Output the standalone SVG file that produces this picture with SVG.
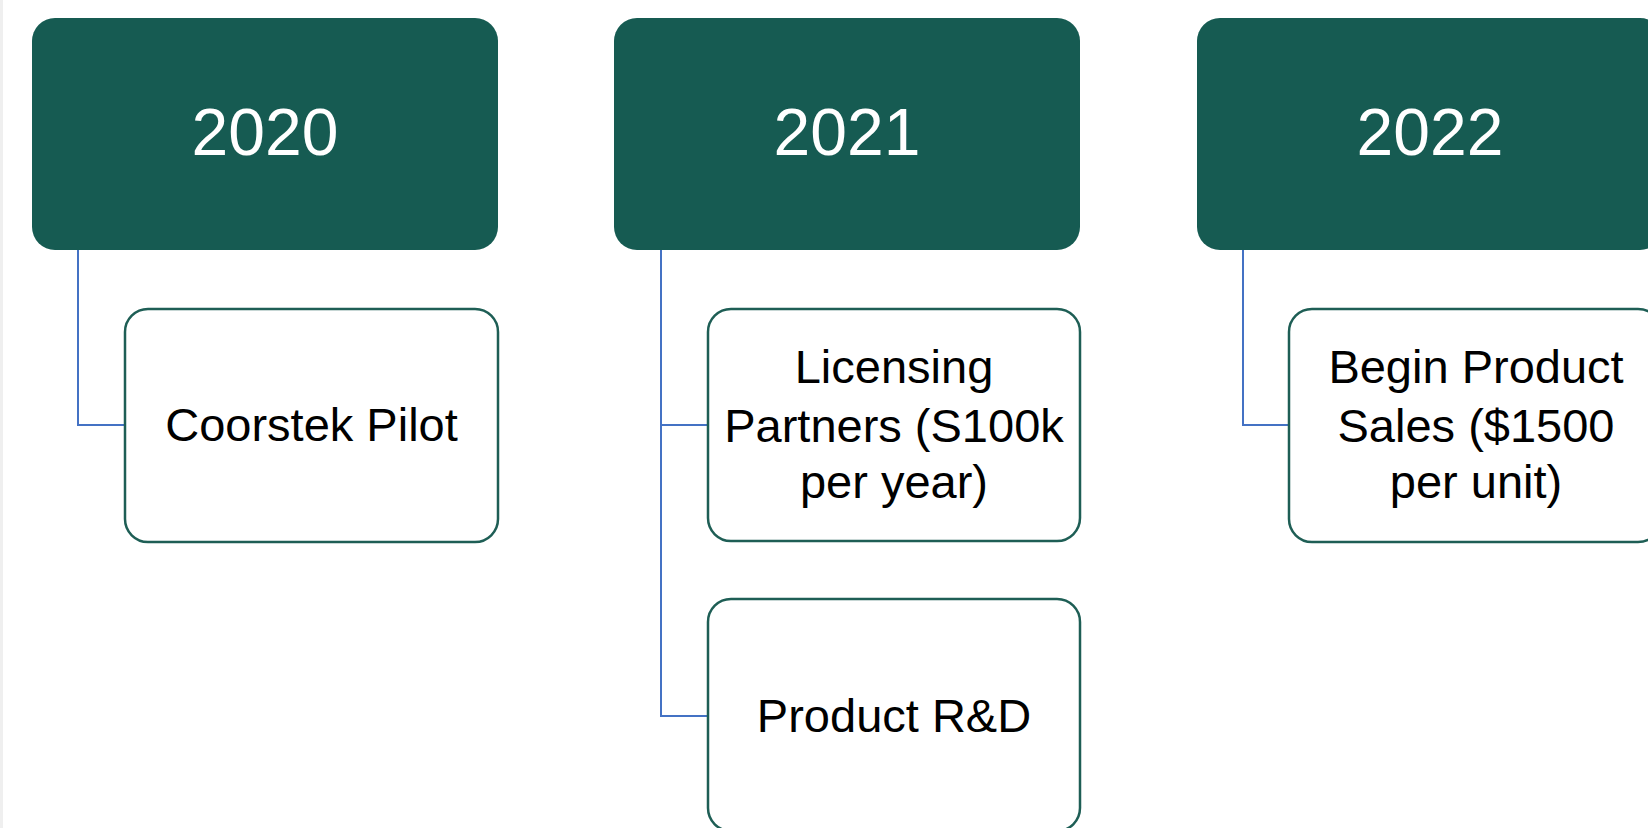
<svg xmlns="http://www.w3.org/2000/svg" width="1648" height="828" viewBox="0 0 1648 828">
<style>
.year{fill:#165B52}
.yt{font-family:"Liberation Sans",Arial,sans-serif;font-size:66px;fill:#FFFFFF;text-anchor:middle}
.child{fill:#FFFFFF;stroke:#1E5E55;stroke-width:2.5}
.ct{font-family:"Liberation Sans",Arial,sans-serif;font-size:47px;fill:#000000;text-anchor:middle}
.conn{fill:none;stroke:#4472C4;stroke-width:2}
</style>
<rect x="0" y="0" width="1648" height="828" fill="#FFFFFF"/>
<rect x="0" y="0" width="3" height="828" fill="#EFEFEF"/>
<g id="connectors">
<path class="conn" d="M78,250 V425 H125"/>
<path class="conn" d="M661,250 V716 H708"/>
<path class="conn" d="M661,425 H708"/>
<path class="conn" d="M1243,250 V425 H1289"/>
</g>
<g id="y2020">
<rect class="year" x="32" y="18" width="466" height="232" rx="23"/>
<text class="yt" x="265" y="155">2020</text>
</g>
<g id="coorstek">
<rect class="child" x="125" y="309" width="373" height="233" rx="23"/>
<text class="ct" x="311.5" y="441">Coorstek Pilot</text>
</g>
<g id="y2021">
<rect class="year" x="614" y="18" width="466" height="232" rx="23"/>
<text class="yt" x="847" y="155">2021</text>
</g>
<g id="licensing">
<rect class="child" x="708" y="309" width="372" height="232" rx="23"/>
<text class="ct" x="894" y="383">Licensing</text>
<text class="ct" x="894" y="442">Partners (S100k</text>
<text class="ct" x="894" y="498">per year)</text>
</g>
<g id="rnd">
<rect class="child" x="708" y="599" width="372" height="232" rx="23"/>
<text class="ct" x="894" y="732">Product R&amp;D</text>
</g>
<g id="y2022">
<rect class="year" x="1197" y="18" width="466" height="232" rx="23"/>
<text class="yt" x="1430" y="155">2022</text>
</g>
<g id="sales">
<rect class="child" x="1289" y="309" width="372" height="233" rx="23"/>
<text class="ct" x="1476" y="383">Begin Product</text>
<text class="ct" x="1476" y="442">Sales ($1500</text>
<text class="ct" x="1476" y="498">per unit)</text>
</g>
</svg>
